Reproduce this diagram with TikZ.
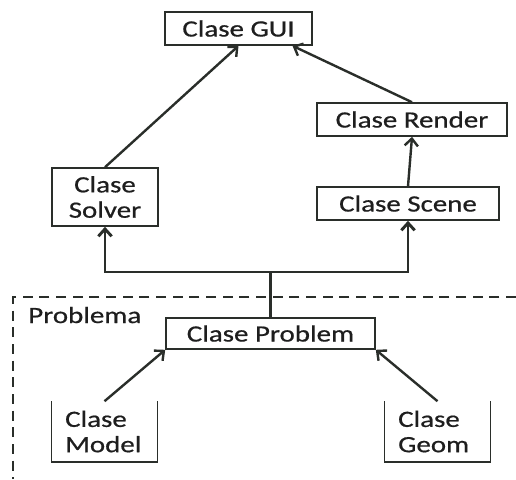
\documentclass[tikz,border=0pt]{standalone}
\usepackage{fontspec}
\setmainfont{Carlito}[FakeStretch=1.24, FakeBold=0.6]
\usetikzlibrary{arrows.meta,positioning}
\definecolor{ClsLine}{HTML}{2A2E2A}
\definecolor{ClsText}{HTML}{1E1E1E}

\begin{document}
\begin{tikzpicture}[x=0.75pt,y=-0.75pt,
  clase/.style={draw=ClsLine, line width=1.2pt, fill=white, inner sep=0pt,
    font=\fontsize{17.5}{19}\selectfont, text=ClsText, align=center},
  abierta/.style={clase, draw=none, align=left, inner xsep=9.75pt},
  dep/.style={draw=ClsLine, line width=1.8pt, -{Straight Barb[length=5.5pt,width=10pt]}}]
  \useasboundingbox (0,0) rectangle (516,479);

  % interfaz y render
  \node[clase, minimum width=110pt, minimum height=24.75pt] (gui) at (238.5,28.5) {Clase GUI};
  \node[clase, minimum width=142.5pt, minimum height=24.75pt] (render) at (412,119.5) {Clase Render};
  \node[clase, minimum width=79.5pt, minimum height=43.5pt] (solver) at (105,197) {Clase\\Solver};
  \node[clase, minimum width=136.5pt, minimum height=24.75pt] (scene) at (408,203.5) {Clase Scene};

  % paquete del problema
  \draw[ClsLine, line width=1.2pt, dash pattern=on 7.5pt off 5pt] (516,297) -- (13,297) -- (13,479);
  \node[font=\fontsize{17.5}{19}\selectfont, text=ClsText, anchor=west, inner sep=0pt] (paquete) at (28,315) {Problema};
  \node[clase, minimum width=156.75pt, minimum height=23.25pt] (problem) at (270.5,333.5) {Clase Problem};
  \node[abierta, text width=59pt, minimum height=44.25pt] (model) at (104.5,431.5) {Clase\\Model};
  \node[abierta, text width=59pt, minimum height=44.25pt] (geom) at (437.5,431.5) {Clase\\Geom};
  \draw[ClsLine, line width=1.2pt] (model.north west) |- (model.south east) -- (model.north east);
  \draw[ClsLine, line width=1.2pt] (geom.north west) |- (geom.south east) -- (geom.north east);

  % dependencias
  \coordinate (split) at (270.5,272);
  \draw[dep] (solver.north) -- (gui.south);
  \draw[dep] (render.north) -- ([xshift=40.5pt]gui.south);
  \draw[dep] (scene.north) -- (render.south);
  \draw[dep, line width=2.2pt] (problem.north) -- (split) -| (solver.south);
  \draw[dep, line width=2.2pt] (split) -| (scene.south);
  \draw[dep] (model.north) -- (problem.south west);
  \draw[dep] (geom.north) -- (problem.south east);
\end{tikzpicture}
\end{document}
